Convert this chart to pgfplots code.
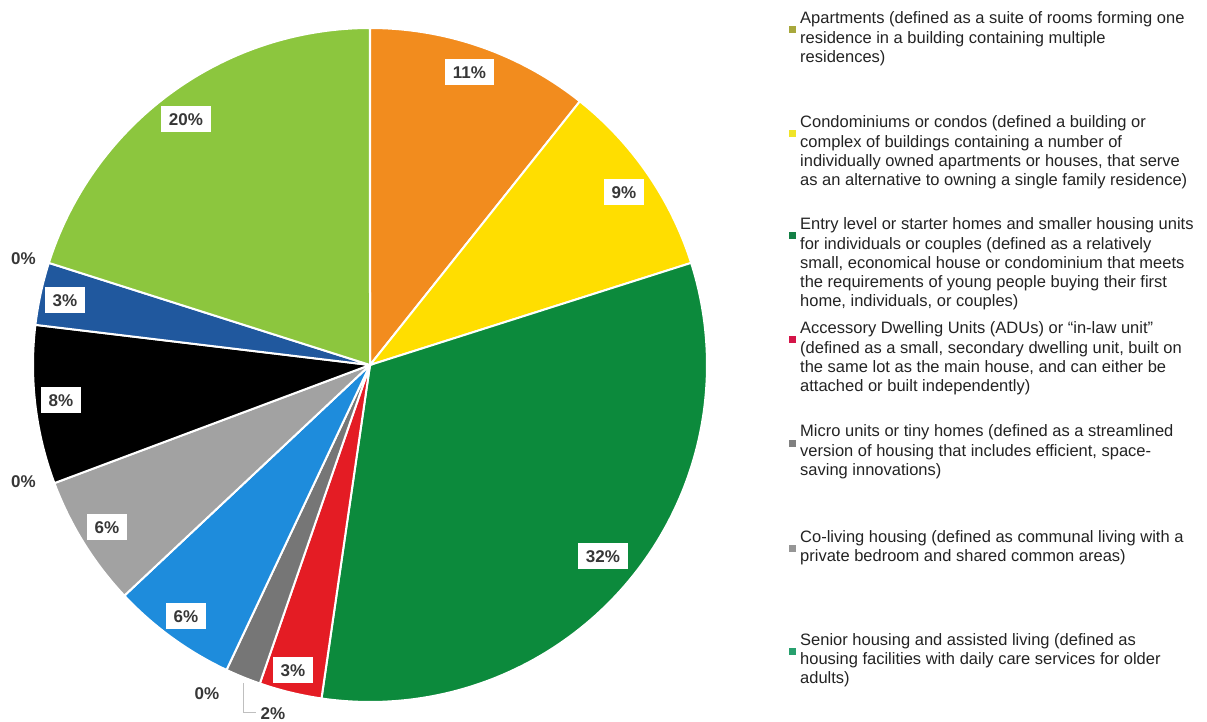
\documentclass[border=0pt]{standalone}
\usepackage{pgfplots}
\pgfplotsset{compat=1.18}
\usepackage{fontspec}
\setmainfont{Liberation Sans}
\definecolor{cOrange}{RGB}{242,140,30}
\definecolor{cYellow}{RGB}{255,222,0}
\definecolor{cDGreen}{RGB}{12,138,60}
\definecolor{cRed}{RGB}{228,28,36}
\definecolor{cDGray}{RGB}{118,118,118}
\definecolor{cBlue}{RGB}{30,140,220}
\definecolor{cLGray}{RGB}{162,162,162}
\definecolor{cBlack}{RGB}{0,0,0}
\definecolor{cDBlue}{RGB}{32,88,158}
\definecolor{cLGreen}{RGB}{140,198,62}
\definecolor{labgray}{RGB}{55,55,55}
\definecolor{legtext}{RGB}{35,35,35}
\definecolor{mApt}{RGB}{168,168,60}
\definecolor{mCondo}{RGB}{240,228,40}
\definecolor{mEntry}{RGB}{20,128,70}
\definecolor{mADU}{RGB}{212,20,72}
\definecolor{mMicro}{RGB}{128,128,128}
\definecolor{mCoLiv}{RGB}{150,150,150}
\definecolor{mSenior}{RGB}{40,160,110}
\newcommand\legfont{\fontsize{16.5}{19}\selectfont}
\newcommand{\legitem}[3]{%
  \fill[#2] (788.5,{721-#1-9.5}) rectangle ++(7,7);
  \foreach \t [count=\i from 0] in {#3}
    \node[anchor=base west, inner sep=0pt, font=\legfont, text=legtext] at (800,{721-#1-19.1*\i}) {\t};
}
\tikzset{lab/.style={fill=white, text=labgray, font=\fontsize{17}{17}\selectfont\bfseries,
  inner xsep=7.5pt, inner ysep=6.9pt, text height=12.2pt, text depth=0pt},
  zlab/.style={text=labgray, font=\fontsize{17}{17}\selectfont\bfseries, inner sep=0pt}}
\begin{document}
\begin{tikzpicture}[x=1pt,y=1pt]
\useasboundingbox (0,0) rectangle (1207,721);
\begin{axis}[at={(370pt,356pt)}, anchor=center, width=674pt, height=674pt,
  scale only axis, hide axis, xmin=-1, xmax=1, ymin=-1, ymax=1, clip=false]
% slices: percentages (cumulative start:end), clockwise from top
\addplot[fill=cOrange, draw=white, line width=2pt, domain=0:10.7, samples=40, variable=\p] ({sin(3.6*\p)},{cos(3.6*\p)}) -- (axis cs:0,0) -- cycle;
\addplot[fill=cYellow, draw=white, line width=2pt, domain=10.7:20.1, samples=40, variable=\p] ({sin(3.6*\p)},{cos(3.6*\p)}) -- (axis cs:0,0) -- cycle;
\addplot[fill=cDGreen, draw=white, line width=2pt, domain=20.1:52.3, samples=100, variable=\p] ({sin(3.6*\p)},{cos(3.6*\p)}) -- (axis cs:0,0) -- cycle;
\addplot[fill=cRed, draw=white, line width=2pt, domain=52.3:55.3, samples=20, variable=\p] ({sin(3.6*\p)},{cos(3.6*\p)}) -- (axis cs:0,0) -- cycle;
\addplot[fill=cDGray, draw=white, line width=2pt, domain=55.3:57.0, samples=15, variable=\p] ({sin(3.6*\p)},{cos(3.6*\p)}) -- (axis cs:0,0) -- cycle;
\addplot[fill=cBlue, draw=white, line width=2pt, domain=57.0:63.0, samples=30, variable=\p] ({sin(3.6*\p)},{cos(3.6*\p)}) -- (axis cs:0,0) -- cycle;
\addplot[fill=cLGray, draw=white, line width=2pt, domain=63.0:69.3, samples=30, variable=\p] ({sin(3.6*\p)},{cos(3.6*\p)}) -- (axis cs:0,0) -- cycle;
\addplot[fill=cBlack, draw=white, line width=2pt, domain=69.3:76.9, samples=30, variable=\p] ({sin(3.6*\p)},{cos(3.6*\p)}) -- (axis cs:0,0) -- cycle;
\addplot[fill=cDBlue, draw=white, line width=2pt, domain=76.9:79.9, samples=20, variable=\p] ({sin(3.6*\p)},{cos(3.6*\p)}) -- (axis cs:0,0) -- cycle;
\addplot[fill=cLGreen, draw=white, line width=2pt, domain=79.9:100, samples=70, variable=\p] ({sin(3.6*\p)},{cos(3.6*\p)}) -- (axis cs:0,0) -- cycle;
\end{axis}
% data labels
\node[lab] at (469.5,{721-72}) {11\%};
\node[lab] at (624,{721-192}) {9\%};
\node[lab] at (603,{721-556}) {32\%};
\node[lab] at (293,{721-670}) {3\%};
\node[lab] at (186,{721-616}) {6\%};
\node[lab] at (107,{721-527}) {6\%};
\node[lab] at (61,{721-400}) {8\%};
\node[lab] at (65,{721-300}) {3\%};
\node[lab] at (186,{721-119}) {20\%};
\node[zlab] at (23.5,{721-259}) {0\%};
\node[zlab] at (23.5,{721-482}) {0\%};
\node[zlab] at (207,{721-694}) {0\%};
\draw[black!25, line width=0.8pt] (243,{721-683}) -- (243,{721-712}) -- (256,{721-712});
\node[zlab] at (273,{721-714}) {2\%};
% legend
\legitem{24}{mApt}{{Apartments (defined as a suite of rooms forming one},{residence in a building containing multiple},{residences)}}
\legitem{128}{mCondo}{{Condominiums or condos (defined a building or},{complex of buildings containing a number of},{individually owned apartments or houses, that serve},{as an alternative to owning a single family residence)}}
\legitem{230}{mEntry}{{Entry level or starter homes and smaller housing units},{for individuals or couples (defined as a relatively},{small, economical house or condominium that meets},{the requirements of young people buying their first},{home, individuals, or couples)}}
\legitem{334}{mADU}{{Accessory Dwelling Units (ADUs) or “in-law unit”},{(defined as a small, secondary dwelling unit, built on},{the same lot as the main house, and can either be},{attached or built independently)}}
\legitem{437}{mMicro}{{Micro units or tiny homes (defined as a streamlined},{version of housing that includes efficient, space-},{saving innovations)}}
\legitem{542}{mCoLiv}{{Co-living housing (defined as communal living with a},{private bedroom and shared common areas)}}
\legitem{645}{mSenior}{{Senior housing and assisted living (defined as},{housing facilities with daily care services for older},{adults)}}
\end{tikzpicture}
\end{document}
